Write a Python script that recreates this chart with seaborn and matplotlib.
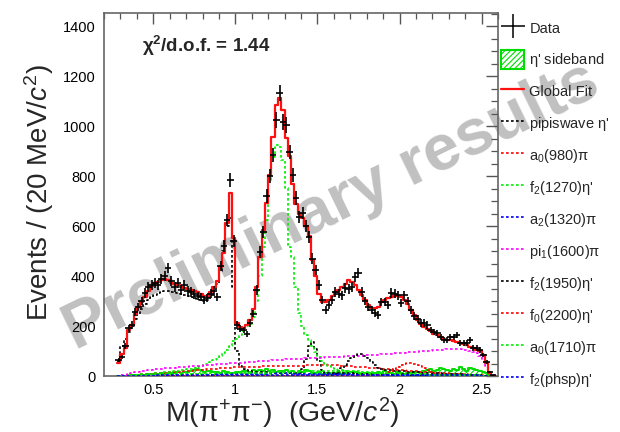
import numpy as np
import pandas as pd
import matplotlib
matplotlib.use("Agg")
import matplotlib.pyplot as plt
import seaborn as sns
from matplotlib.lines import Line2D
from matplotlib.patches import Patch

# ---------------- data (20 MeV bins, 0.28 - 2.58 GeV) ----------------
bin_lo, bin_hi, bin_w = 0.28, 2.58, 0.02

data_counts = [
    64, 76, 120, 192, 204, 256, 276, 300, 332, 356,
    364, 372, 364, 388, 400, 432, 380, 356, 372, 344,
    364, 340, 336, 328, 320, 316, 304, 312, 330, 340,
    316, 440, 520, 624, 784, 540, 204, 190, 184, 168,
    212, 250, 344, 496, 576, 720, 800, 884, 1024, 1132,
    1016, 1004, 896, 804, 712, 636, 652, 600, 556, 470,
    424, 364, 304, 264, 284, 304, 336, 330, 324, 352,
    348, 356, 396, 412, 336, 300, 276, 264, 252, 244,
    296, 296, 284, 332, 330, 324, 292, 324, 300, 264,
    240, 228, 212, 212, 204, 184, 176, 172, 156, 144,
    144, 156, 156, 164, 132, 132, 132, 144, 112, 112,
    104, 84, 56, 16, 4]

global_fit = [
    52, 90, 112, 184, 204, 250, 276, 296, 316, 340,
    360, 372, 378, 384, 388, 384, 372, 368, 364, 356,
    352, 348, 344, 340, 336, 328, 322, 320, 336, 356,
    380, 436, 492, 612, 732, 552, 212, 196, 192, 204,
    224, 270, 356, 476, 584, 692, 804, 956, 1084, 1112,
    1066, 954, 880, 770, 690, 650, 632, 600, 560, 464,
    400, 330, 296, 296, 304, 320, 336, 346, 356, 370,
    384, 376, 364, 344, 324, 304, 284, 272, 272, 276,
    296, 304, 312, 316, 320, 320, 316, 304, 290, 264,
    244, 224, 208, 196, 188, 180, 170, 164, 156, 150,
    146, 144, 142, 138, 134, 130, 124, 118, 112, 106,
    100, 84, 52, 14, 2]

sideband = [
    0, 0, 2, 2, 4, 4, 4, 6, 6, 8,
    8, 10, 8, 12, 10, 12, 14, 12, 16, 14,
    18, 16, 20, 26, 30, 24, 18, 22, 20, 16,
    18, 14, 20, 16, 12, 14, 18, 16, 20, 22,
    18, 24, 20, 26, 22, 28, 20, 24, 18, 22,
    20, 26, 16, 20, 14, 22, 18, 24, 20, 14,
    12, 16, 10, 14, 12, 8, 12, 16, 10, 14,
    12, 18, 16, 14, 10, 12, 14, 10, 12, 16,
    14, 20, 18, 14, 10, 16, 12, 10, 14, 12,
    16, 18, 14, 20, 24, 30, 22, 26, 34, 28,
    24, 20, 30, 26, 36, 28, 22, 32, 28, 24,
    20, 16, 12, 6, 2]

pipiswave = [
    60, 120, 150, 176, 200, 230, 250, 270, 290, 305,
    318, 326, 332, 336, 340, 340, 338, 336, 332, 328,
    324, 320, 316, 312, 308, 304, 300, 304, 316, 340,
    370, 420, 500, 600, 632, 356, 100, 40, 28, 24,
    20, 18, 16, 16, 15, 15, 14, 14, 14, 13,
    13, 12, 12, 12, 13, 14, 30, 70, 120, 136,
    110, 60, 24, 14, 13, 13, 12, 12, 12, 11,
    11, 11, 10, 10, 10, 10, 9, 9, 9, 9,
    9, 8, 8, 8, 8, 7, 7, 7, 7, 6,
    6, 6, 6, 5, 5, 5, 5, 5, 4, 4,
    4, 4, 4, 3, 3, 3, 3, 3, 2, 2,
    2, 2, 1, 0, 0]

a0_980 = [
    0, 1, 2, 3, 4, 5, 6, 7, 8, 9,
    10, 11, 12, 13, 14, 15, 16, 17, 18, 19,
    20, 21, 22, 23, 24, 25, 26, 27, 28, 29,
    30, 31, 32, 33, 34, 35, 35, 36, 36, 37,
    37, 38, 38, 38, 39, 39, 39, 40, 40, 40,
    40, 41, 41, 41, 42, 42, 42, 43, 43, 44,
    44, 44, 45, 45, 45, 44, 44, 43, 42, 41,
    40, 39, 38, 37, 36, 35, 34, 33, 32, 31,
    30, 29, 28, 27, 26, 25, 24, 23, 22, 21,
    20, 19, 18, 17, 16, 15, 14, 13, 12, 12,
    11, 10, 10, 9, 8, 8, 7, 6, 6, 5,
    4, 3, 2, 1, 0]

f2_1270 = [
    0, 1, 2, 3, 4, 5, 6, 7, 8, 9,
    10, 11, 12, 13, 15, 16, 18, 20, 22, 24,
    26, 28, 30, 33, 36, 40, 44, 50, 56, 64,
    70, 80, 92, 106, 120, 140, 150, 164, 180, 200,
    210, 236, 300, 400, 516, 624, 784, 876, 924, 916,
    864, 752, 516, 476, 356, 252, 200, 164, 144, 120,
    96, 76, 60, 48, 40, 34, 30, 26, 23, 20,
    18, 16, 15, 14, 13, 12, 11, 10, 10, 9,
    9, 8, 8, 7, 7, 7, 6, 6, 6, 5,
    5, 5, 5, 4, 4, 4, 4, 4, 3, 3,
    3, 3, 3, 3, 2, 2, 2, 2, 2, 2,
    2, 1, 1, 0, 0]

a2_1320 = [
    0, 1, 1, 1, 2, 2, 2, 2, 3, 3,
    3, 3, 3, 4, 4, 4, 4, 4, 5, 5,
    5, 5, 5, 5, 6, 6, 6, 6, 6, 6,
    7, 7, 7, 7, 7, 7, 8, 8, 8, 8,
    9, 9, 9, 10, 10, 10, 11, 11, 12, 12,
    12, 12, 11, 11, 10, 10, 10, 9, 9, 9,
    8, 8, 8, 8, 8, 7, 7, 7, 7, 7,
    7, 6, 6, 6, 6, 6, 6, 5, 5, 5,
    5, 5, 5, 5, 5, 4, 4, 4, 4, 4,
    4, 4, 4, 4, 3, 3, 3, 3, 3, 3,
    3, 3, 3, 2, 2, 2, 2, 2, 2, 2,
    2, 1, 1, 0, 0]

pi1_1600 = [
    0, 3, 6, 9, 12, 15, 17, 19, 21, 23,
    25, 27, 28, 30, 31, 32, 33, 34, 35, 36,
    37, 38, 39, 40, 41, 42, 43, 44, 45, 46,
    47, 48, 49, 50, 51, 52, 52, 53, 54, 55,
    56, 57, 58, 59, 60, 61, 62, 63, 64, 65,
    66, 67, 67, 68, 69, 69, 70, 71, 71, 72,
    73, 73, 74, 75, 75, 76, 77, 77, 78, 79,
    79, 80, 81, 81, 82, 83, 83, 84, 85, 86,
    87, 88, 89, 90, 91, 92, 93, 94, 95, 96,
    97, 98, 99, 100, 101, 102, 103, 104, 105, 106,
    107, 108, 108, 108, 107, 106, 104, 101, 97, 92,
    82, 64, 40, 16, 3]

f2_1950 = [
    0, 0, 0, 0, 0, 0, 0, 0, 0, 0,
    0, 0, 0, 0, 0, 0, 0, 0, 0, 0,
    0, 0, 0, 0, 0, 0, 0, 0, 0, 0,
    0, 0, 0, 0, 0, 0, 0, 0, 0, 0,
    0, 0, 0, 0, 0, 0, 0, 0, 0, 0,
    0, 0, 0, 0, 0, 0, 0, 0, 1, 1,
    1, 1, 2, 2, 3, 5, 10, 20, 32, 46,
    60, 72, 82, 88, 88, 82, 72, 58, 44, 34,
    28, 26, 24, 24, 22, 22, 20, 20, 18, 18,
    16, 16, 15, 14, 14, 13, 12, 12, 11, 10,
    10, 9, 8, 8, 7, 6, 6, 5, 4, 4,
    3, 2, 1, 0, 0]

f0_2200 = [
    0, 0, 1, 1, 1, 1, 2, 2, 2, 2,
    2, 2, 2, 2, 2, 2, 2, 2, 2, 2,
    2, 2, 2, 2, 2, 2, 2, 2, 2, 2,
    2, 2, 2, 2, 2, 2, 2, 2, 2, 2,
    2, 2, 2, 2, 2, 2, 2, 2, 2, 2,
    2, 2, 2, 2, 2, 2, 2, 2, 2, 2,
    2, 2, 2, 2, 2, 2, 2, 2, 2, 2,
    2, 2, 2, 2, 2, 2, 3, 3, 4, 5,
    6, 10, 16, 22, 30, 38, 44, 48, 52, 52,
    50, 46, 40, 32, 24, 16, 10, 6, 4, 3,
    3, 2, 2, 2, 2, 2, 2, 1, 1, 1,
    1, 1, 0, 0, 0]

a0_1710 = [
    0, 1, 1, 2, 2, 3, 3, 4, 4, 5,
    5, 5, 6, 6, 6, 7, 7, 7, 8, 8,
    8, 9, 9, 9, 10, 10, 10, 10, 11, 11,
    11, 11, 12, 12, 12, 12, 12, 12, 13, 13,
    13, 13, 13, 14, 14, 14, 14, 15, 15, 15,
    15, 16, 16, 16, 17, 17, 18, 18, 19, 19,
    20, 20, 21, 21, 22, 22, 22, 22, 22, 22,
    21, 21, 20, 19, 18, 17, 16, 15, 14, 13,
    12, 12, 11, 11, 10, 10, 9, 9, 9, 8,
    8, 8, 7, 7, 7, 6, 6, 6, 6, 5,
    5, 5, 5, 5, 4, 4, 4, 4, 3, 3,
    3, 2, 2, 1, 0]

f2_phsp = [
    0, 0, 1, 1, 1, 1, 2, 2, 2, 2,
    2, 2, 3, 3, 3, 3, 3, 3, 3, 4,
    4, 4, 4, 4, 4, 4, 4, 4, 5, 5,
    5, 5, 5, 5, 5, 5, 5, 5, 5, 5,
    5, 5, 5, 5, 5, 5, 5, 5, 5, 5,
    5, 5, 5, 5, 5, 5, 5, 5, 5, 5,
    6, 6, 6, 6, 6, 6, 6, 6, 6, 6,
    6, 6, 6, 6, 6, 6, 6, 6, 6, 6,
    6, 6, 6, 6, 5, 5, 5, 5, 5, 5,
    5, 5, 5, 5, 5, 5, 5, 5, 4, 4,
    4, 4, 4, 4, 4, 3, 3, 3, 3, 3,
    2, 2, 1, 1, 0]

components = [
    ("pipiswave $\\eta$'", pipiswave, "black"),
    ("a$_0$(980)$\\pi$", a0_980, "red"),
    ("f$_2$(1270)$\\eta$'", f2_1270, "#00ee00"),
    ("a$_2$(1320)$\\pi$", a2_1320, "blue"),
    ("pi$_1$(1600)$\\pi$", pi1_1600, "magenta"),
    ("f$_2$(1950)$\\eta$'", f2_1950, "black"),
    ("f$_0$(2200)$\\eta$'", f0_2200, "red"),
    ("a$_0$(1710)$\\pi$", a0_1710, "#00ee00"),
    ("f$_2$(phsp)$\\eta$'", f2_phsp, "blue"),
]

x_ticks = [0.5, 1.0, 1.5, 2.0, 2.5]
x_ticklabels = ["0.5", "1", "1.5", "2", "2.5"]
y_ticks = [0, 200, 400, 600, 800, 1000, 1200, 1400]

# ---------------- plotting ----------------
sns.set_theme(style="white")
plt.rcParams["font.family"] = ["Liberation Sans", "DejaVu Sans"]
plt.rcParams["mathtext.fontset"] = "custom"
plt.rcParams["mathtext.rm"] = "Liberation Sans"
plt.rcParams["mathtext.it"] = "Liberation Sans:italic"
plt.rcParams["mathtext.bf"] = "Liberation Sans:bold"
plt.rcParams["mathtext.default"] = "regular"
plt.rcParams["hatch.linewidth"] = 0.8

edges = np.round(np.arange(bin_lo, bin_hi + bin_w / 2, bin_w), 4)
centers = (edges[:-1] + edges[1:]) / 2
bin_list = edges.tolist()

fig = plt.figure(figsize=(6.2, 4.32), dpi=100)
ax = fig.add_axes([104 / 620, 1 - 376 / 432, 394 / 620, 363 / 432])
ax.set_facecolor("none")

dotted = (0, (1.6, 1.4))
sb_color = "#00dd00"

# sideband (hatched)
n_before = len(ax.collections)
sns.histplot(x=centers, weights=sideband, bins=bin_list, element="step",
             fill=True, color=sb_color, linewidth=0, ax=ax)
for coll in ax.collections[n_before:]:
    coll.set_facecolor("none")
    coll.set_edgecolor(sb_color)
    coll.set_hatch("//////")
    coll.set_linewidth(0)
    coll.set_zorder(2)
sns.histplot(x=centers, weights=sideband, bins=bin_list, element="step",
             fill=False, color=sb_color, linewidth=1.4, ax=ax, zorder=2)

for name, vals, col in components:
    sns.histplot(x=centers, weights=vals, bins=bin_list, element="step",
                 fill=False, color=col, linewidth=1.2, linestyle=dotted,
                 ax=ax, zorder=3)

sns.histplot(x=centers, weights=global_fit, bins=bin_list, element="step",
             fill=False, color="#ff1010", linewidth=1.6, ax=ax, zorder=4)

data_arr = np.array(data_counts, dtype=float)
ax.errorbar(centers, data_arr, yerr=np.sqrt(data_arr), xerr=bin_w,
            fmt="none", ecolor="black", elinewidth=1.2, capsize=0, zorder=5)

ax.set_xlim(0.2, 2.6)
ax.set_ylim(0, 1452)
ax.set_xlabel("")
ax.set_ylabel("")
ax.set_xticks(x_ticks)
ax.set_xticklabels(x_ticklabels)
ax.set_yticks(y_ticks)
ax.xaxis.set_minor_locator(matplotlib.ticker.MultipleLocator(0.1))
ax.yaxis.set_minor_locator(matplotlib.ticker.MultipleLocator(50))
ax.tick_params(which="both", direction="in", top=True, right=True,
               colors="#555555", labelcolor="black", labelsize=10.5)
ax.tick_params(axis="y", which="major", length=9, width=1.0, pad=6)
ax.tick_params(axis="y", which="minor", length=5, width=0.9)
ax.tick_params(axis="x", which="major", length=8, width=1.0, pad=5)
ax.tick_params(axis="x", which="minor", length=4, width=0.9)
for s in ax.spines.values():
    s.set_color("#666666")
    s.set_linewidth(1.2)
    s.set_visible(True)

ax.text(0.096, 0.909, "$\\chi^2$/d.o.f. = 1.44", transform=ax.transAxes,
        fontsize=13.5, fontweight="bold", ha="left", va="center")

fig.text(39 / 620, 1 - 193 / 432, "Events / (20 MeV/$\\mathit{c}^2$)",
         rotation=90, ha="center", va="center", fontsize=20,
         family=["Liberation Sans Narrow", "Liberation Sans", "DejaVu Sans"])
fig.text(282 / 620, 1 - 413 / 432,
         "M($\\pi^{+}\\pi^{-}$)  (GeV/$\\mathit{c}^2$)",
         ha="center", va="center", fontsize=20.5)

# watermark
fig.text(332 / 620, 1 - 206 / 432, "Preliminary results", rotation=26,
         ha="center", va="center", fontsize=47, fontweight="bold",
         color="#bdbdbd", zorder=-1, alpha=0.95)

# legend
handles = [Line2D([], [], color="black", marker="+", markersize=17,
                  markeredgewidth=1.1, linestyle="none"),
           Patch(facecolor="white", edgecolor=sb_color, hatch="//////",
                 linewidth=1.5),
           Line2D([], [], color="#ff1010", linewidth=1.6)]
labels = ["Data", "$\\eta$' sideband", "Global Fit"]
for name, vals, col in components:
    handles.append(Line2D([], [], color=col, linewidth=1.2, linestyle=dotted))
    labels.append(name)
fig.legend(handles, labels, loc="upper left",
           bbox_to_anchor=(501 / 620, 1 - 19 / 432), frameon=False,
           fontsize=10.5, handlelength=1.6, handleheight=1.55,
           handletextpad=0.35, labelspacing=0.9, borderaxespad=0,
           borderpad=0)

fig.savefig("out.png", dpi=100)
